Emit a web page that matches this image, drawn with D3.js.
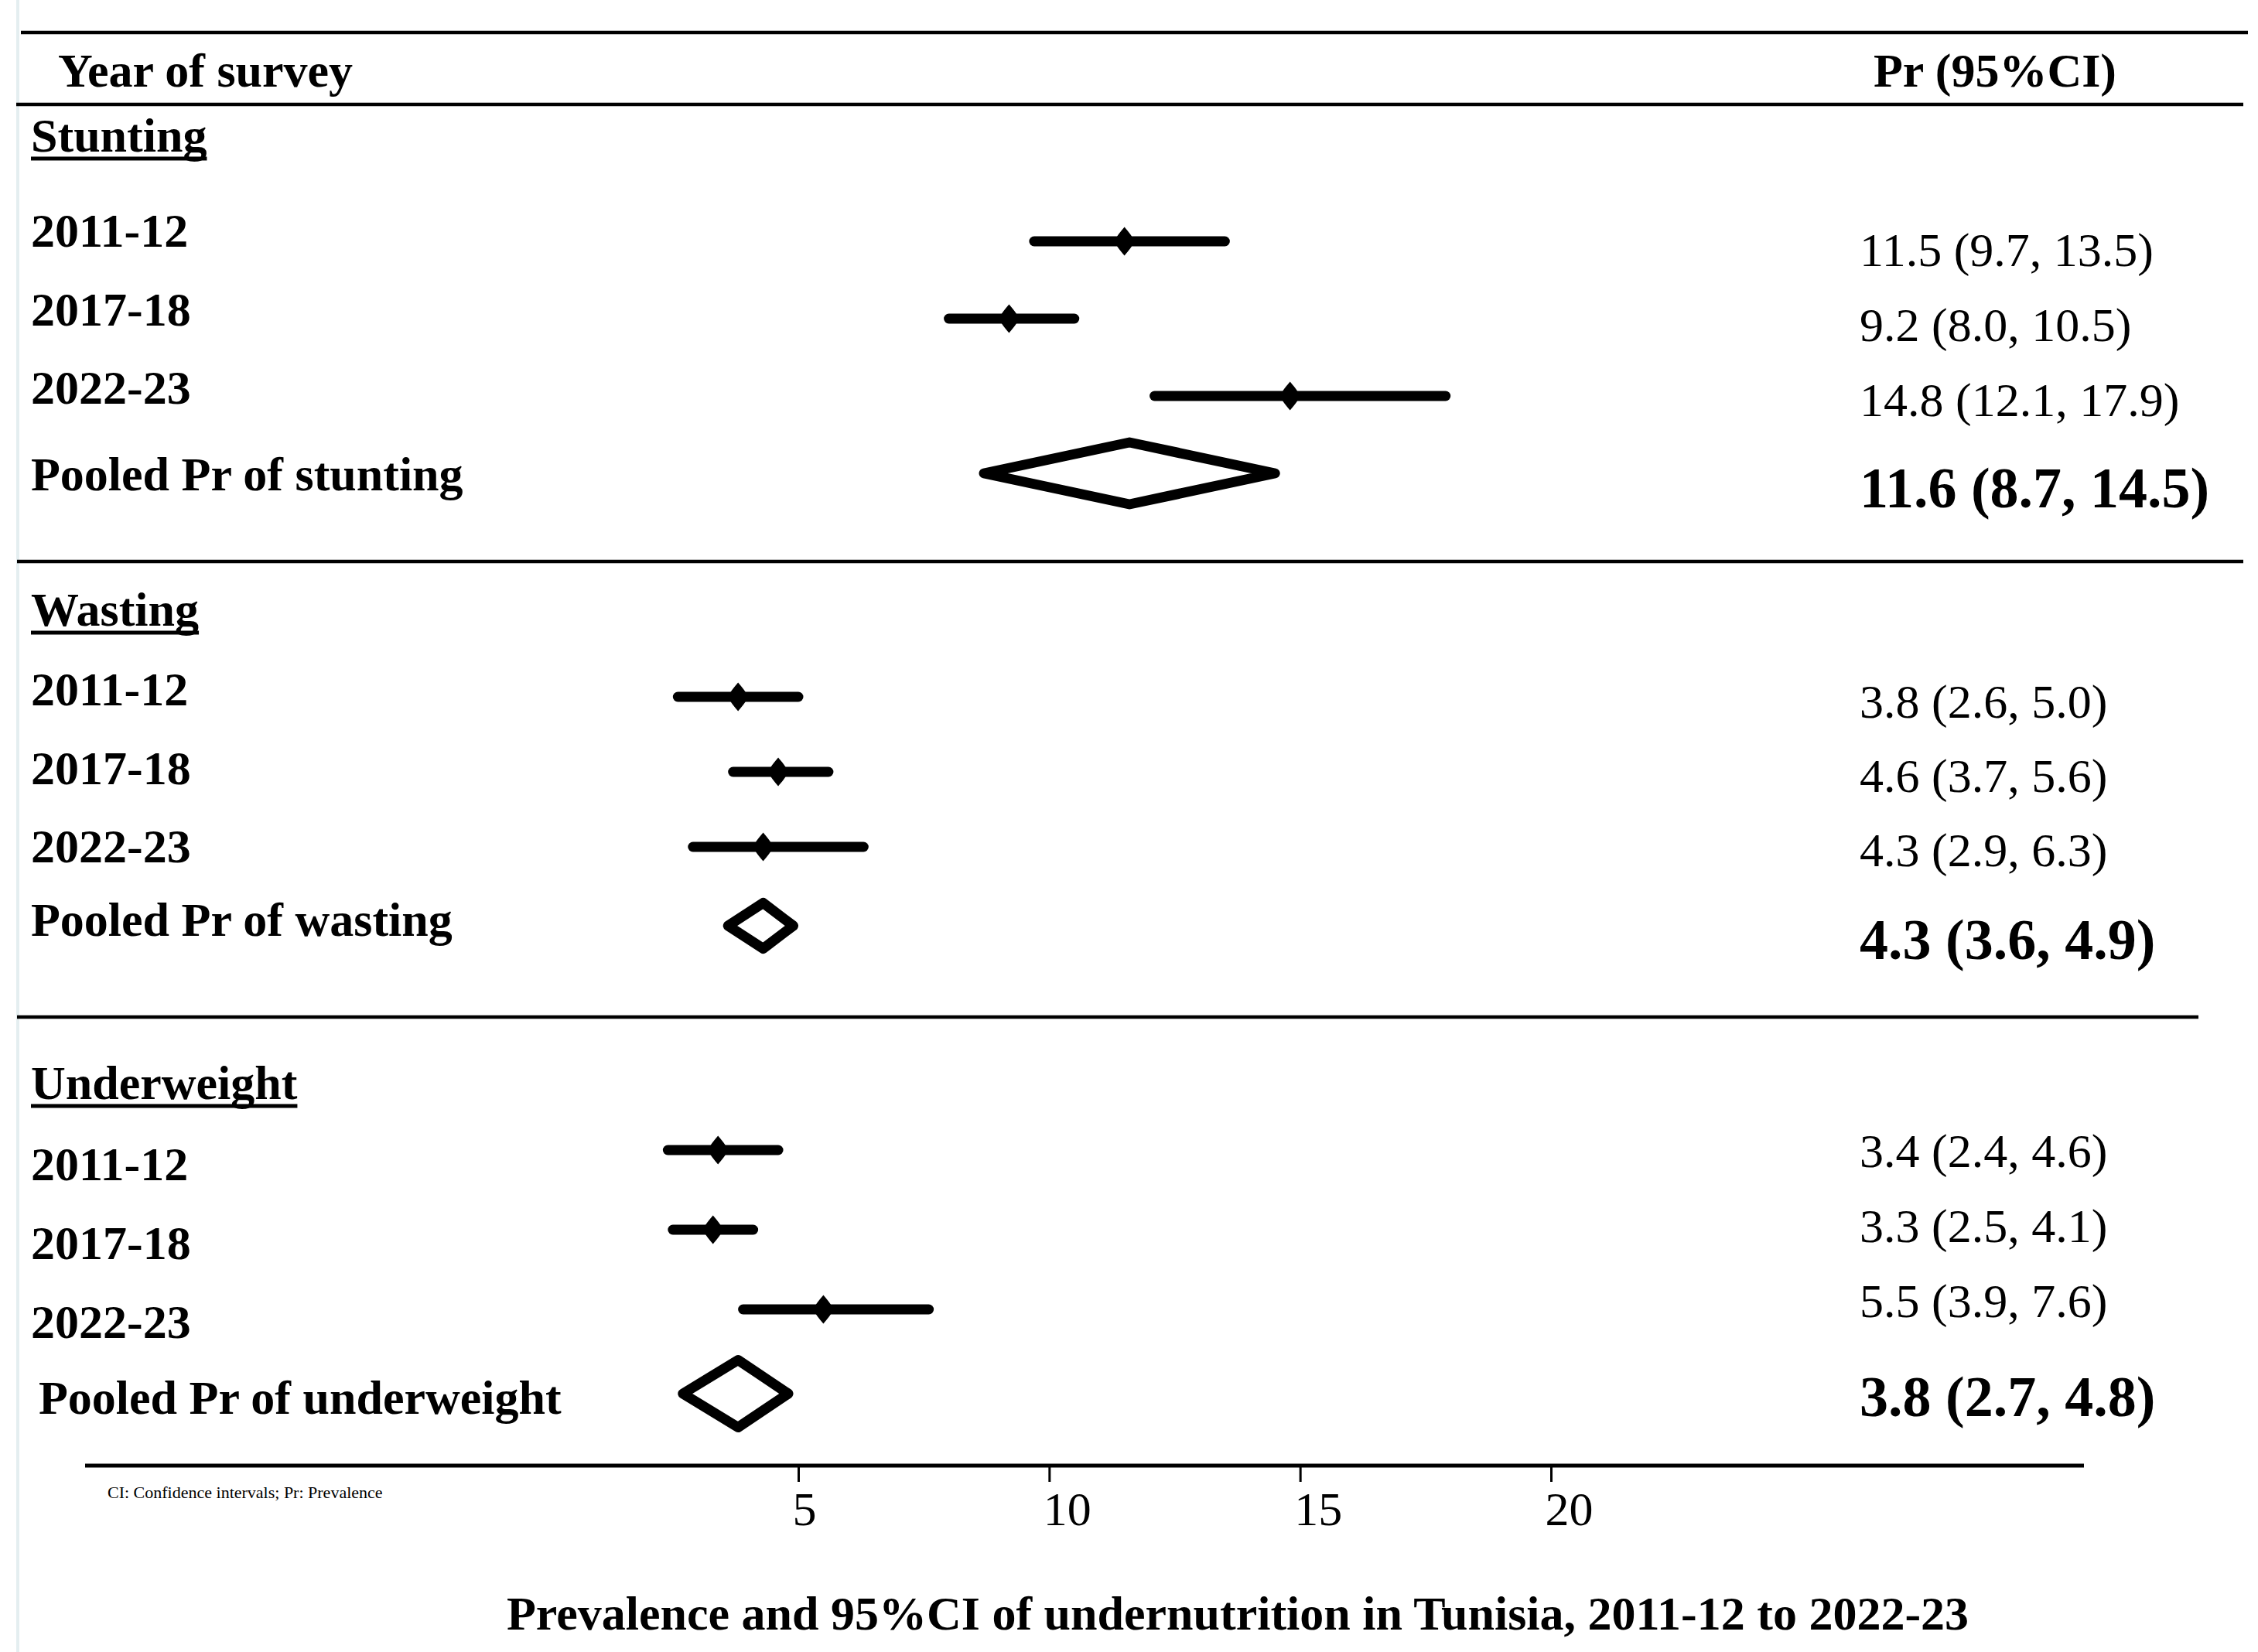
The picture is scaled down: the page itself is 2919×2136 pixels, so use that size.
<!DOCTYPE html>
<html>
<head>
<meta charset="utf-8">
<script src="https://cdn.jsdelivr.net/npm/d3@7/dist/d3.min.js"></script>
<style>
  html, body { margin: 0; padding: 0; background: #ffffff; }
  svg { display: block; }
  text { font-family: "Liberation Serif", "Times New Roman", Times, serif; fill: #000; }
</style>
</head>
<body>
<script>
// ---------------- DATA ----------------
const groups = ["Stunting", "Wasting", "Underweight"];
const years = ["2011-12", "2017-18", "2022-23"];

const stuntingPr = [11.5, 9.2, 14.8];
const stuntingLo = [9.7, 8.0, 12.1];
const stuntingHi = [13.5, 10.5, 17.9];
const stuntingPooled = [11.6, 8.7, 14.5];

const wastingPr = [3.8, 4.6, 4.3];
const wastingLo = [2.6, 3.7, 2.9];
const wastingHi = [5.0, 5.6, 6.3];
const wastingPooled = [4.3, 3.6, 4.9];

const underweightPr = [3.4, 3.3, 5.5];
const underweightLo = [2.4, 2.5, 3.9];
const underweightHi = [4.6, 4.1, 7.6];
const underweightPooled = [3.8, 2.7, 4.8];

const tickValues = [5, 10, 15, 20];

const headerLeft = "Year of survey";
const headerRight = "Pr (95%CI)";
const footnote = "CI: Confidence intervals; Pr: Prevalence";
const title = "Prevalence and 95%CI of undernutrition in Tunisia, 2011-12 to 2022-23";

// ---------------- LAYOUT (positions / sizes only) ----------------
const W = 2919, H = 2136;
const layout = [
  { heading: 196, labelY: [319, 522], pooledLabelY: 634, pooledLabelX: 40,
    markY: [312, 512], diamondY: 612, diamondH: 40,
    textY: [344, 538], pooledTextY: 656 },
  { heading: 809, labelY: [912, 1115], pooledLabelY: 1210, pooledLabelX: 40,
    markY: [901, 1095], diamondY: 1197, diamondH: 29.5,
    textY: [928, 1120], pooledTextY: 1240 },
  { heading: 1421, labelY: [1526, 1730], pooledLabelY: 1828, pooledLabelX: 50,
    markY: [1487, 1693], diamondY: 1802, diamondH: 43.5,
    textY: [1509, 1703], pooledTextY: 1831 }
];
const separators = [
  { y: 42, x1: 27, x2: 2906 },
  { y: 135, x1: 21, x2: 2900 },
  { y: 726, x1: 22, x2: 2900 },
  { y: 1315, x1: 22, x2: 2842 }
];
const axisY = 1895, axisX1 = 110, axisX2 = 2694;
const textX = 2404, labelX = 40;

// ---------------- BUILD ----------------
const series = [
  { name: groups[0], pr: stuntingPr, lo: stuntingLo, hi: stuntingHi, pooled: stuntingPooled },
  { name: groups[1], pr: wastingPr, lo: wastingLo, hi: wastingHi, pooled: wastingPooled },
  { name: groups[2], pr: underweightPr, lo: underweightLo, hi: underweightHi, pooled: underweightPooled }
];

const f1 = d3.format(".1f");
const fmt = (p, l, h) => `${f1(p)} (${f1(l)}, ${f1(h)})`;

const svg = d3.select("body").append("svg")
  .attr("width", W).attr("height", H).attr("viewBox", `0 0 ${W} ${H}`);

svg.append("rect").attr("width", W).attr("height", H).attr("fill", "#ffffff");
// faint left border
svg.append("rect").attr("x", 21).attr("y", 0).attr("width", 4).attr("height", H).attr("fill", "#e4eef0");

const x = d3.scaleLinear().domain([5, 20]).range([1032, 2005]);

// separators
svg.selectAll("line.sep").data(separators).join("line")
  .attr("class", "sep")
  .attr("x1", d => d.x1).attr("x2", d => d.x2)
  .attr("y1", d => d.y).attr("y2", d => d.y)
  .attr("stroke", "#000").attr("stroke-width", 4.5);

// header
svg.append("text").attr("x", 75).attr("y", 112)
  .attr("font-size", 62).attr("font-weight", "bold").text(headerLeft);
svg.append("text").attr("x", 2422).attr("y", 112)
  .attr("font-size", 62).attr("font-weight", "bold").text(headerRight);

function markerPath(cx, cy) {
  const w = 12, h = 18.5;
  return `M${cx},${cy - h}` +
    `C${cx + 4},${cy - h + 5} ${cx + w},${cy - 5} ${cx + w},${cy}` +
    `C${cx + w},${cy + 5} ${cx + 4},${cy + h - 5} ${cx},${cy + h}` +
    `C${cx - 4},${cy + h - 5} ${cx - w},${cy + 5} ${cx - w},${cy}` +
    `C${cx - w},${cy - 5} ${cx - 4},${cy - h + 5} ${cx},${cy - h}Z`;
}

series.forEach((s, gi) => {
  const L = layout[gi];
  const g = svg.append("g");
  const yLabel = d3.scalePoint().domain(years).range(L.labelY);
  const yMark = d3.scalePoint().domain(years).range(L.markY);
  const yText = d3.scalePoint().domain(years).range(L.textY);

  // heading with underline
  const head = g.append("text").attr("x", labelX).attr("y", L.heading)
    .attr("font-size", 62).attr("font-weight", "bold").text(s.name);
  const hw = head.node().getComputedTextLength();
  g.append("line").attr("x1", labelX).attr("x2", labelX + hw)
    .attr("y1", L.heading + 9).attr("y2", L.heading + 9)
    .attr("stroke", "#000").attr("stroke-width", 5);

  const rows = years.map((yr, i) => ({ yr, pr: s.pr[i], lo: s.lo[i], hi: s.hi[i] }));

  // year labels
  g.selectAll("text.yr").data(rows).join("text").attr("class", "yr")
    .attr("x", labelX).attr("y", d => yLabel(d.yr))
    .attr("font-size", 62).attr("font-weight", "bold").text(d => d.yr);

  // CI lines
  g.selectAll("line.ci").data(rows).join("line").attr("class", "ci")
    .attr("x1", d => x(d.lo)).attr("x2", d => x(d.hi))
    .attr("y1", d => yMark(d.yr)).attr("y2", d => yMark(d.yr))
    .attr("stroke", "#000").attr("stroke-width", 13).attr("stroke-linecap", "round");

  // point markers
  g.selectAll("path.pt").data(rows).join("path").attr("class", "pt")
    .attr("d", d => markerPath(x(d.pr), yMark(d.yr)))
    .attr("fill", "#000");

  // value texts
  g.selectAll("text.val").data(rows).join("text").attr("class", "val")
    .attr("x", textX).attr("y", d => yText(d.yr))
    .attr("font-size", 62).text(d => fmt(d.pr, d.lo, d.hi));

  // pooled
  const [pp, pl, ph] = s.pooled;
  g.append("text").attr("x", L.pooledLabelX).attr("y", L.pooledLabelY)
    .attr("font-size", 62).attr("font-weight", "bold")
    .text(`Pooled Pr of ${s.name.toLowerCase()}`);
  const cy = L.diamondY, dh = L.diamondH;
  g.append("path")
    .attr("d", `M${x(pl)},${cy} L${x(pp)},${cy - dh} L${x(ph)},${cy} L${x(pp)},${cy + dh} Z`)
    .attr("fill", "none").attr("stroke", "#000").attr("stroke-width", 13)
    .attr("stroke-linejoin", "round");
  g.append("text").attr("x", textX).attr("y", L.pooledTextY)
    .attr("font-size", 74).attr("font-weight", "bold").text(fmt(pp, pl, ph));
});

// axis
svg.append("line").attr("x1", axisX1).attr("x2", axisX2)
  .attr("y1", axisY).attr("y2", axisY)
  .attr("stroke", "#000").attr("stroke-width", 5);
const axisG = svg.append("g").attr("transform", `translate(0,${axisY})`)
  .call(d3.axisBottom(x).tickValues(tickValues).tickSize(21).tickPadding(12).tickFormat(d3.format("d")));
axisG.select(".domain").remove();
axisG.selectAll(".tick line").attr("stroke", "#000").attr("stroke-width", 3);
axisG.selectAll(".tick text")
  .attr("font-size", 62)
  .attr("font-family", "'Liberation Serif', 'Times New Roman', serif")
  .attr("text-anchor", "start")
  .attr("x", -8)
  .attr("fill", "#000");

// footnote
svg.append("text").attr("x", 139).attr("y", 1937).attr("font-size", 22).text(footnote);

// title
svg.append("text").attr("x", 655).attr("y", 2107)
  .attr("font-size", 62).attr("font-weight", "bold").text(title);
</script>
</body>
</html>
